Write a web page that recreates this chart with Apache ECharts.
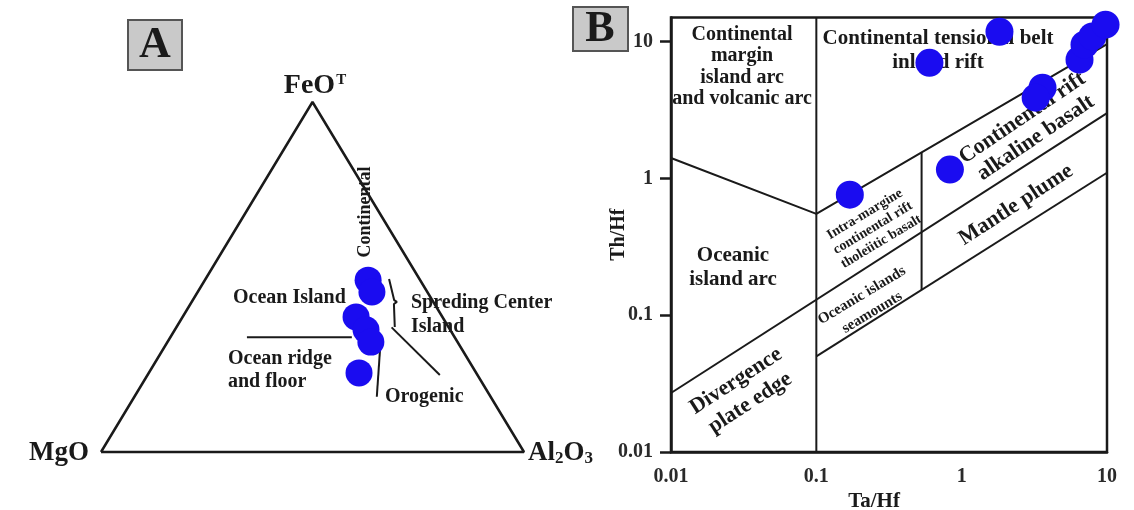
<!DOCTYPE html>
<html>
<head>
<meta charset="utf-8">
<script src="https://cdn.jsdelivr.net/npm/echarts@6/dist/echarts.min.js"></script>
<style>
  html, body { margin: 0; padding: 0; background: #ffffff; }
  #chart { width: 1134px; height: 510px; }
</style>
</head>
<body>
<div id="chart"></div>
<script>
// ---------- Panel A: MgO – FeOT – Al2O3 ternary (normalised wt%) ----------
const sampleFeOT  = [49.1, 45.7, 38.6, 34.9, 31.4, 22.6];
const sampleMgO   = [12.3, 13.1, 20.4, 19.9, 20.5, 27.7];
const sampleAl2O3 = [38.6, 41.2, 41.0, 45.2, 48.1, 49.7];

// Field boundaries, every vertex given as [FeOT, MgO, Al2O3]
const ternaryFrame        = [[0, 100, 0], [0, 0, 100], [100, 0, 0], [0, 100, 0]];
const ridgeIslandBoundary = [[32.8, 49.1, 18.1], [32.8, 24.3, 42.9]];
const orogenicBoundary    = [[33.4, 17.1, 49.5], [15.8, 26.9, 57.3]];
const spreadingBoundary   = [[35.6, 13.5, 50.9], [22.0, 8.9, 69.1]];
const continentalBracket  = [[49.4, 7.2, 43.4], [43.4, 9.0, 47.6], [42.9, 8.6, 48.5], [42.3, 9.6, 48.1], [35.7, 12.7, 51.6]];

// ---------- Panel B: Ta/Hf – Th/Hf discrimination ----------
const taHf = [0.17, 0.83, 0.60, 1.82, 3.60, 3.23, 6.47, 7.00, 7.94, 9.77];
const thHf = [0.76, 1.16, 7.00, 11.8, 4.60, 3.89, 7.37, 9.49, 10.9, 13.3];

const logTicks      = [0.01, 0.1, 1, 10];
const logTickLabels = ['0.01', '0.1', '1', '10'];

// Field boundaries as [Ta/Hf, Th/Hf] polylines
const arcRiftBoundary     = [[0.01, 1.41], [0.1, 0.55], [10, 9.6]];
const arcVertical         = [[0.1, 0.01], [0.1, 15]];
const riftVertical        = [[0.53, 0.153], [0.53, 1.55]];
const plumeUpperBoundary  = [[0.01, 0.027], [10, 3.0]];
const plumeLowerBoundary  = [[0.1, 0.05], [10, 1.1]];

// ----------------------------------------------------------------------
const serif = "'Liberation Serif', 'Times New Roman', serif";
const ink = '#1a1a1a';
const dotBlue = '#1a0cf0';

function ternaryXY(feo, mgo, al) {
  const s = feo + mgo + al;
  return [(al + feo / 2) / s, feo / s];
}
const toXY = pts => pts.map(p => ternaryXY(p[0], p[1], p[2]));

function boundaryLine(points, gi, width) {
  return {
    type: 'line', xAxisIndex: gi, yAxisIndex: gi, data: points,
    symbol: 'none', clip: gi === 1, silent: true, z: 2,
    lineStyle: { color: ink, width: width }
  };
}

function label(x, y, text, size, o = {}) {
  return {
    type: 'text', x: x, y: y, z: 1,
    rotation: (o.rot || 0) * Math.PI / 180,
    style: {
      text: text, fill: ink,
      fontFamily: serif, fontWeight: 'bold', fontSize: size,
      align: o.align || 'center', verticalAlign: 'middle',
      lineHeight: o.lh || Math.round(size * 1.15),
      rich: o.rich
    }
  };
}

const tickText = v =>
  logTickLabels[logTicks.findIndex(t => Math.abs(Math.log10(t) - Math.log10(v)) < 1e-6)] || '';

const chart = echarts.init(document.getElementById('chart'), null, { renderer: 'canvas' });

const option = {
  backgroundColor: '#ffffff',
  animation: false,
  grid: [
    { left: 101, top: 102, width: 423, height: 350, show: false, outerBoundsMode: 'none' },
    { left: 671, top: 17.5, width: 436, height: 434.5, show: true, outerBoundsMode: 'none',
      borderColor: ink, borderWidth: 2.5, backgroundColor: 'transparent' }
  ],
  xAxis: [
    { gridIndex: 0, type: 'value', min: 0, max: 1, show: false },
    { gridIndex: 1, type: 'log', logBase: 10, min: 0.01, max: 10,
      axisLine: { show: true, lineStyle: { color: ink, width: 2.5 } },
      axisTick: { show: false },
      splitLine: { show: false },
      axisLabel: {
        customValues: logTicks, margin: 15, color: '#2a2a2a',
        fontFamily: serif, fontWeight: 'bold', fontSize: 20,
        formatter: tickText
      },
      name: 'Ta/Hf', nameLocation: 'middle', nameGap: 39, nameMoveOverlap: false,
      nameTextStyle: { fontFamily: serif, fontWeight: 'bold', fontSize: 21, color: ink, padding: [0, 30, 0, 0] }
    }
  ],
  yAxis: [
    { gridIndex: 0, type: 'value', min: 0, max: 1, show: false },
    { gridIndex: 1, type: 'log', logBase: 10, min: 0.01, max: 15,
      axisLine: { show: true, lineStyle: { color: ink, width: 2.5 } },
      axisTick: { show: true, customValues: logTicks, length: 11, lineStyle: { color: ink, width: 2.5 } },
      splitLine: { show: false },
      axisLabel: {
        customValues: logTicks, margin: 18, color: '#2a2a2a',
        fontFamily: serif, fontWeight: 'bold', fontSize: 20,
        formatter: tickText
      },
      name: 'Th/Hf', nameLocation: 'middle', nameGap: 42, nameRotate: 90, nameMoveOverlap: false,
      nameTextStyle: { fontFamily: serif, fontWeight: 'bold', fontSize: 20, color: ink }
    }
  ],
  series: [
    // Panel A
    boundaryLine(toXY(ternaryFrame), 0, 2.5),
    boundaryLine(toXY(ridgeIslandBoundary), 0, 2),
    boundaryLine(toXY(orogenicBoundary), 0, 2),
    boundaryLine(toXY(spreadingBoundary), 0, 2),
    boundaryLine(toXY(continentalBracket), 0, 2),
    {
      type: 'scatter', xAxisIndex: 0, yAxisIndex: 0, z: 3,
      data: sampleFeOT.map((f, i) => ternaryXY(f, sampleMgO[i], sampleAl2O3[i])),
      symbolSize: 27, itemStyle: { color: dotBlue, opacity: 1 }
    },
    // Panel B
    boundaryLine(arcVertical, 1, 2),
    boundaryLine(arcRiftBoundary, 1, 2),
    boundaryLine(riftVertical, 1, 2),
    boundaryLine(plumeUpperBoundary, 1, 2),
    boundaryLine(plumeLowerBoundary, 1, 2),
    {
      type: 'scatter', xAxisIndex: 1, yAxisIndex: 1, z: 3, clip: false,
      data: taHf.map((x, i) => [x, thHf[i]]),
      symbolSize: 28, itemStyle: { color: dotBlue, opacity: 1 }
    }
  ],
  graphic: [
    // panel letters
    { type: 'rect', z: 1, shape: { x: 128, y: 20, width: 54, height: 50 },
      style: { fill: '#c9c9c9', stroke: '#555555', lineWidth: 2 } },
    label(155, 46, 'A', 44),
    { type: 'rect', z: 1, shape: { x: 573, y: 7, width: 55, height: 44 },
      style: { fill: '#c9c9c9', stroke: '#555555', lineWidth: 2 } },
    label(600, 30, 'B', 44),

    // ternary vertices
    label(315, 86, '{m|FeO}{s|T}', 28, { rich: {
      m: { fontFamily: serif, fontWeight: 'bold', fontSize: 28, fill: ink },
      s: { fontFamily: serif, fontWeight: 'bold', fontSize: 15, fill: ink, padding: [0, 0, 12, 1] } } }),
    label(89, 453, 'MgO', 27, { align: 'right' }),
    label(528, 453, '{m|Al}{d|2}{m|O}{d|3}', 27, { align: 'left', rich: {
      m: { fontFamily: serif, fontWeight: 'bold', fontSize: 27, fill: ink },
      d: { fontFamily: serif, fontWeight: 'bold', fontSize: 17, fill: ink, padding: [12, 0, 0, 0] } } }),

    // ternary fields
    label(365, 212, 'Continental', 18, { rot: 90 }),
    label(233, 298, 'Ocean Island', 20, { align: 'left' }),
    label(411, 315, 'Spreding Center\nIsland', 20, { align: 'left', lh: 24 }),
    label(228, 370, 'Ocean ridge\nand floor', 20, { align: 'left', lh: 23 }),
    label(385, 397, 'Orogenic', 20, { align: 'left' }),

    // Ta/Hf – Th/Hf fields
    label(742, 67, 'Continental\nmargin\nisland arc\nand volcanic arc', 20, { lh: 21.5 }),
    label(938, 51, 'Continental tensional belt\ninland rift', 21, { lh: 24 }),
    label(873, 228, 'Intra-margine\ncontinental rift\ntholeiitic basalt', 14, { rot: 31, lh: 16 }),
    label(867, 304, 'Oceanic islands\nseamounts', 15, { rot: 31, lh: 20 }),
    label(1029, 128, 'Continental rift\nalkaline basalt', 22, { rot: 34, lh: 24 }),
    label(1016, 205, 'Mantle plume', 22, { rot: 33 }),
    label(733, 268, 'Oceanic\nisland arc', 21, { lh: 24 }),
    label(743, 392, 'Divergence\nplate edge', 22, { rot: 33, lh: 26 })
  ]
};

chart.setOption(option);
</script>
</body>
</html>
